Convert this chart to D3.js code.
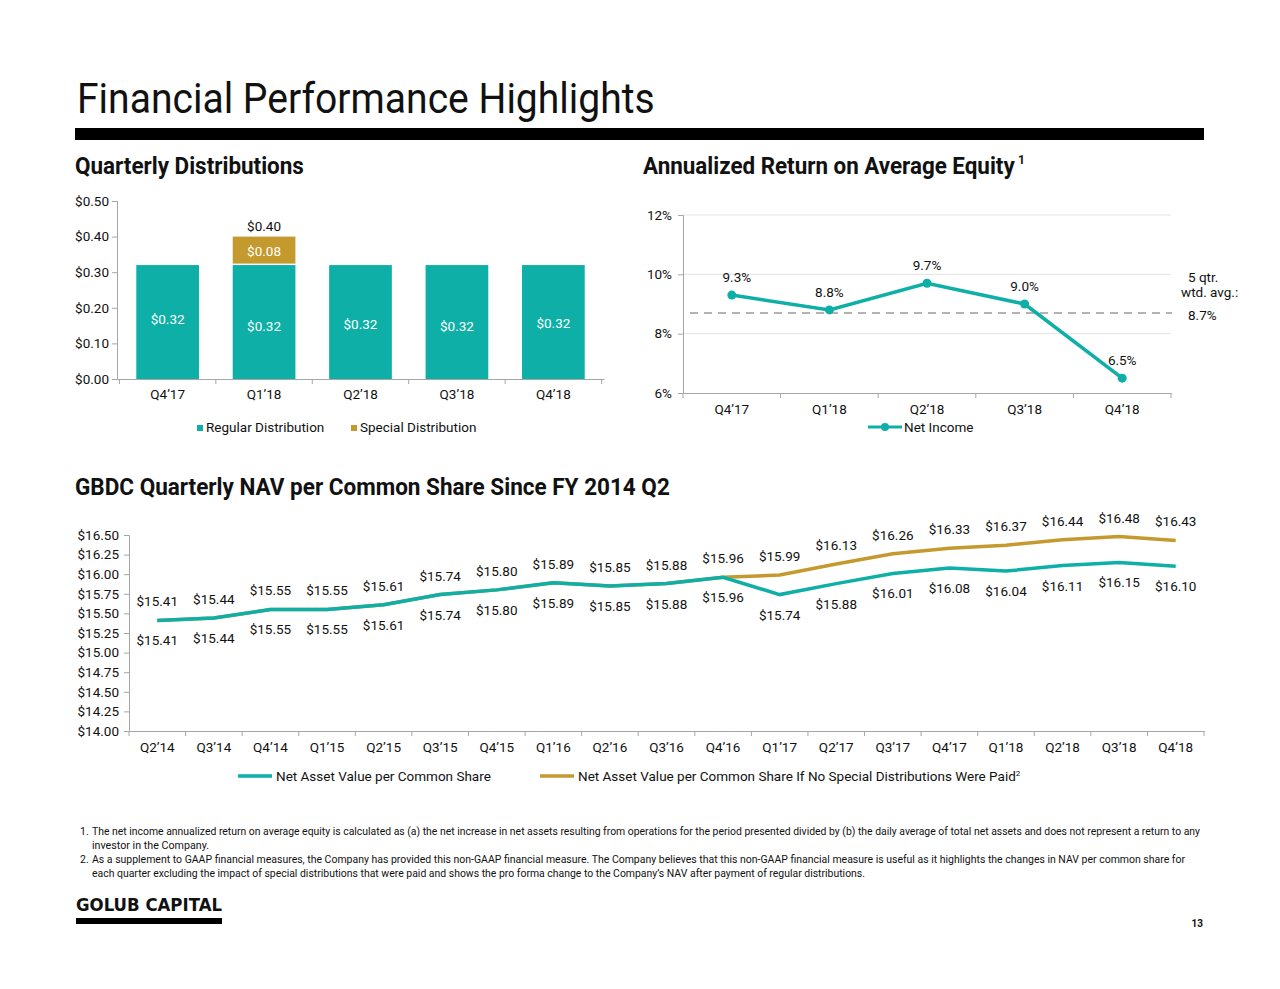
<!DOCTYPE html>
<html><head><meta charset="utf-8">
<script src="https://cdn.jsdelivr.net/npm/d3@7"></script>
<style>
body{margin:0;background:#fff}
svg{display:block}
text{font-family:Roboto,"Noto Sans",sans-serif;fill:#111}
</style></head>
<body><svg id="c" width="1280" height="989"></svg>
<script>
// ---------- data ----------
const distCats = ["Q4’17","Q1’18","Q2’18","Q3’18","Q4’18"];
const regularDist = [0.32,0.32,0.32,0.32,0.32];
const specialDist = [0,0.08,0,0,0];
const distTicks = [0,0.1,0.2,0.3,0.4,0.5];

const roeCats = ["Q4’17","Q1’18","Q2’18","Q3’18","Q4’18"];
const roeValues = [9.3,8.8,9.7,9.0,6.5];
const roeAvg = 8.7;
const roeTicks = [6,8,10,12];

const navCats = ["Q2’14","Q3’14","Q4’14","Q1’15","Q2’15","Q3’15","Q4’15","Q1’16","Q2’16","Q3’16","Q4’16","Q1’17","Q2’17","Q3’17","Q4’17","Q1’18","Q2’18","Q3’18","Q4’18"];
const navValues = [15.41,15.44,15.55,15.55,15.61,15.74,15.80,15.89,15.85,15.88,15.96,15.74,15.88,16.01,16.08,16.04,16.11,16.15,16.10];
const navNoSpecial = [15.41,15.44,15.55,15.55,15.61,15.74,15.80,15.89,15.85,15.88,15.96,15.99,16.13,16.26,16.33,16.37,16.44,16.48,16.43];
const navTicks = [14,14.25,14.5,14.75,15,15.25,15.5,15.75,16,16.25,16.5];

const TEAL = "#0DAFA7", GOLD = "#C49A2E", AXIS = "#A6A6A6";
const svg = d3.select("#c");

// scale a text horizontally to a target width (keeps real bbox consistent)
function fitText(sel,x,y,w){
  const nat = sel.node().getComputedTextLength();
  sel.attr("x",0).attr("y",0).attr("transform",`translate(${x},${y}) scale(${w/nat},1)`);
  return sel;
}

// ---------- header ----------
fitText(svg.append("text").attr("font-size",42).text("Financial Performance Highlights"),77,113,578);
svg.append("rect").attr("x",75).attr("y",128).attr("width",1129).attr("height",12).attr("fill","#000");

function secTitle(x,y,len,txt,sup){
  fitText(svg.append("text").attr("font-size",23).attr("font-weight",700).text(txt),x,y,len);
  if(sup) svg.append("text").attr("x",x+len+3).attr("y",y-10).attr("font-size",12).attr("font-weight",700).text(sup);
}
secTitle(75,174,229,"Quarterly Distributions");
secTitle(643,174,372,"Annualized Return on Average Equity","1");
secTitle(75,495,595,"GBDC Quarterly NAV per Common Share Since FY 2014 Q2");

function styleAxis(g){
  g.selectAll("path.domain").attr("stroke",AXIS);
  g.selectAll(".tick line").attr("stroke",AXIS);
  g.selectAll(".tick text").attr("fill","#111").attr("font-size",13.5).attr("font-family","Roboto,sans-serif");
}
function boundaryTicks(x,cats,y0){
  const step = x.step(), pi = x.paddingInner();
  const pos = cats.map(c=>x(c)-step*pi/2);
  pos.push(x(cats[cats.length-1])+x.bandwidth()+step*pi/2);
  svg.append("g").selectAll("line").data(pos).join("line")
    .attr("x1",d=>d).attr("x2",d=>d).attr("y1",y0).attr("y2",y0+5).attr("stroke",AXIS);
}

// ---------- Chart 1: distributions ----------
{
  const x = d3.scaleBand().domain(distCats).range([117,604]).paddingInner(0.35).paddingOuter(0.2);
  const y = d3.scaleLinear().domain([0,0.5]).range([379,201]);
  const ga = svg.append("g").attr("transform","translate(117,0)")
    .call(d3.axisLeft(y).tickValues(distTicks).tickSize(5).tickPadding(3).tickFormat(d=>"$"+d.toFixed(2)));
  styleAxis(ga);
  const gx = svg.append("g").attr("transform","translate(0,379)")
    .call(d3.axisBottom(x).tickSize(0).tickPadding(10));
  styleAxis(gx);
  boundaryTicks(x,distCats,379);

  svg.append("g").selectAll("rect").data(distCats).join("rect")
    .attr("x",d=>x(d)).attr("width",x.bandwidth())
    .attr("y",(d,i)=>y(regularDist[i])).attr("height",(d,i)=>y(0)-y(regularDist[i]))
    .attr("fill",TEAL);
  svg.append("g").selectAll("rect").data(distCats.filter((d,i)=>specialDist[i]>0)).join("rect")
    .attr("x",d=>x(d)).attr("width",x.bandwidth())
    .attr("y",d=>{const i=distCats.indexOf(d);return y(regularDist[i]+specialDist[i]);})
    .attr("height",d=>{const i=distCats.indexOf(d);return y(regularDist[i])-y(regularDist[i]+specialDist[i])-1.5;})
    .attr("fill",GOLD);
  const offs=[-2,5,3,5,2];
  svg.append("g").selectAll("text").data(distCats).join("text")
    .attr("x",d=>x(d)+x.bandwidth()/2).attr("y",(d,i)=>y(regularDist[i]/2)+4+offs[i])
    .attr("text-anchor","middle").attr("font-size",13.5).style("fill","#fff")
    .text((d,i)=>"$"+regularDist[i].toFixed(2));
  distCats.forEach((d,i)=>{
    if(specialDist[i]>0){
      svg.append("text").attr("x",x(d)+x.bandwidth()/2).attr("y",y(regularDist[i]+specialDist[i]/2)+5)
        .attr("text-anchor","middle").attr("font-size",13.5).style("fill","#fff")
        .text("$"+specialDist[i].toFixed(2));
      svg.append("text").attr("x",x(d)+x.bandwidth()/2).attr("y",y(regularDist[i]+specialDist[i])-6)
        .attr("text-anchor","middle").attr("font-size",13.5)
        .text("$"+(regularDist[i]+specialDist[i]).toFixed(2));
    }
  });
  svg.append("rect").attr("x",197).attr("y",425).attr("width",6).attr("height",6).attr("fill",TEAL);
  svg.append("text").attr("x",206).attr("y",432).attr("font-size",13.5).text("Regular Distribution");
  svg.append("rect").attr("x",351).attr("y",425).attr("width",6).attr("height",6).attr("fill",GOLD);
  svg.append("text").attr("x",360).attr("y",432).attr("font-size",13.5).text("Special Distribution");
}

// ---------- Chart 2: ROE ----------
{
  const x = d3.scaleBand().domain(roeCats).range([683,1171]).paddingInner(0).paddingOuter(0);
  const y = d3.scaleLinear().domain([6,12]).range([393,215]);
  const cx = d=>x(d)+x.bandwidth()/2;
  svg.append("g").selectAll("line").data(roeTicks.filter(t=>t>6)).join("line")
    .attr("x1",683).attr("x2",1171).attr("y1",d=>y(d)).attr("y2",d=>y(d)).attr("stroke","#E3E3E3");
  const ga = svg.append("g").attr("transform","translate(683,0)")
    .call(d3.axisLeft(y).tickValues(roeTicks).tickSize(5).tickPadding(6).tickFormat(d=>d+"%"));
  styleAxis(ga);
  const gx = svg.append("g").attr("transform","translate(0,393)")
    .call(d3.axisBottom(x).tickSize(0).tickPadding(11));
  styleAxis(gx);
  boundaryTicks(x,roeCats,393);
  svg.append("line").attr("x1",690).attr("x2",1172).attr("y1",y(roeAvg)).attr("y2",y(roeAvg))
    .attr("stroke","#9A9A9A").attr("stroke-width",1.5).attr("stroke-dasharray","8,6");
  const line = d3.line().x((d,i)=>cx(roeCats[i])).y(d=>y(d));
  svg.append("path").datum(roeValues).attr("d",line).attr("fill","none").attr("stroke",TEAL).attr("stroke-width",3.5);
  svg.append("g").selectAll("circle").data(roeValues).join("circle")
    .attr("cx",(d,i)=>cx(roeCats[i])).attr("cy",d=>y(d)).attr("r",4.5).attr("fill",TEAL);
  svg.append("g").selectAll("text").data(roeValues).join("text")
    .attr("x",(d,i)=>cx(roeCats[i])+(i===0?5:0)).attr("y",d=>y(d)-13)
    .attr("text-anchor","middle").attr("font-size",13.5).text(d=>d.toFixed(1)+"%");
  svg.append("text").attr("x",1188).attr("y",282).attr("font-size",13.5).text("5 qtr.");
  svg.append("text").attr("x",1181).attr("y",297).attr("font-size",13.5).text("wtd. avg.:");
  svg.append("text").attr("x",1188).attr("y",320).attr("font-size",13.5).text(roeAvg.toFixed(1)+"%");
  svg.append("line").attr("x1",868).attr("x2",902).attr("y1",427).attr("y2",427).attr("stroke",TEAL).attr("stroke-width",3);
  svg.append("circle").attr("cx",885).attr("cy",427).attr("r",4).attr("fill",TEAL);
  svg.append("text").attr("x",904).attr("y",432).attr("font-size",13.5).text("Net Income");
}

// ---------- Chart 3: NAV ----------
{
  const x = d3.scaleBand().domain(navCats).range([129,1204]).paddingInner(0).paddingOuter(0);
  const y = d3.scaleLinear().domain([14,16.5]).range([731,535]);
  const cx = d=>x(d)+x.bandwidth()/2;
  const ga = svg.append("g").attr("transform","translate(129,0)")
    .call(d3.axisLeft(y).tickValues(navTicks).tickSize(5).tickPadding(5).tickFormat(d=>"$"+d.toFixed(2)));
  styleAxis(ga);
  const gx = svg.append("g").attr("transform","translate(0,731)")
    .call(d3.axisBottom(x).tickSize(0).tickPadding(11));
  styleAxis(gx);
  boundaryTicks(x,navCats,731);
  const line = d3.line().x((d,i)=>cx(navCats[i])).y(d=>y(d));
  svg.append("path").datum(navNoSpecial).attr("d",line).attr("fill","none").attr("stroke",GOLD).attr("stroke-width",3.5);
  svg.append("path").datum(navValues).attr("d",line).attr("fill","none").attr("stroke",TEAL).attr("stroke-width",3.5);
  svg.append("g").selectAll("text").data(navNoSpecial).join("text")
    .attr("x",(d,i)=>cx(navCats[i])).attr("y",d=>y(d)-14)
    .attr("text-anchor","middle").attr("font-size",13.5).text(d=>"$"+d.toFixed(2));
  svg.append("g").selectAll("text").data(navValues).join("text")
    .attr("x",(d,i)=>cx(navCats[i])).attr("y",d=>y(d)+25)
    .attr("text-anchor","middle").attr("font-size",13.5).text(d=>"$"+d.toFixed(2));
  svg.append("line").attr("x1",238).attr("x2",272).attr("y1",776).attr("y2",776).attr("stroke",TEAL).attr("stroke-width",3.5);
  svg.append("text").attr("x",276).attr("y",781).attr("font-size",13.5).text("Net Asset Value per Common Share");
  svg.append("line").attr("x1",540).attr("x2",574).attr("y1",776).attr("y2",776).attr("stroke",GOLD).attr("stroke-width",3.5);
  const lt = svg.append("text").attr("x",578).attr("y",781).attr("font-size",13.5);
  lt.append("tspan").text("Net Asset Value per Common Share If No Special Distributions Were Paid");
  lt.append("tspan").attr("font-size",8).attr("dy",-5).text("2");
}

// ---------- footnotes ----------
const notes = [
  {n:"1.",t:"The net income annualized return on average equity is calculated as (a) the net increase in net assets resulting from operations for the period presented divided by (b) the daily average of total net assets and does not represent a return to any",y:835,w:1108},
  {n:"",t:"investor in the Company.",y:849,w:117},
  {n:"2.",t:"As a supplement to GAAP financial measures, the Company has provided this non-GAAP financial measure. The Company believes that this non-GAAP financial measure is useful as it highlights the changes in NAV per common share for",y:863,w:1093},
  {n:"",t:"each quarter excluding the impact of special distributions that were paid and shows the pro forma change to the Company’s NAV after payment of regular distributions.",y:877,w:773}
];
notes.forEach(d=>{
  if(d.n) svg.append("text").attr("x",80).attr("y",d.y).attr("font-size",10.5).text(d.n);
  svg.append("text").attr("x",92).attr("y",d.y).attr("font-size",10.5)
    .attr("textLength",d.w).attr("lengthAdjust","spacingAndGlyphs").text(d.t);
});

// ---------- logo & page ----------
svg.append("text").attr("x",76).attr("y",911).attr("font-size",17).attr("font-weight",700)
  .attr("textLength",146).attr("lengthAdjust","spacingAndGlyphs").style("font-family","'DejaVu Sans',sans-serif").text("GOLUB CAPITAL");
svg.append("rect").attr("x",76).attr("y",918).attr("width",146).attr("height",6).attr("fill","#000");
svg.append("text").attr("x",1203).attr("y",927).attr("font-size",10).attr("font-weight",700).attr("text-anchor","end").text("13");
</script></body></html>
